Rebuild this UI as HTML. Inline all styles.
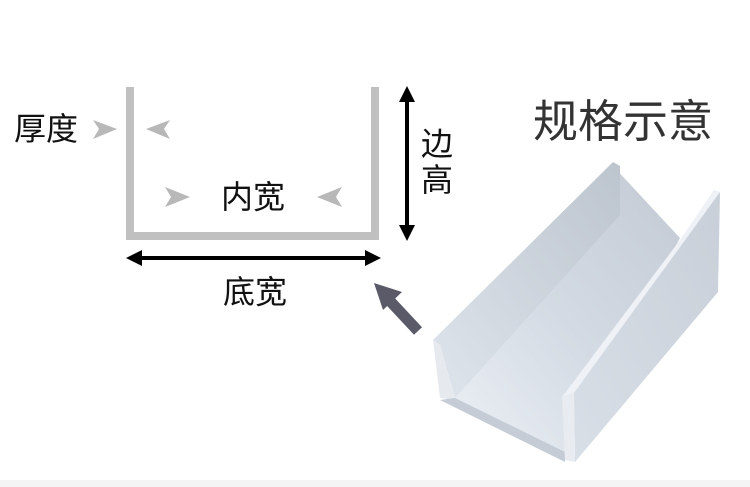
<!DOCTYPE html>
<html><head><meta charset="utf-8"><style>
body{margin:0;width:750px;height:487px;background:#fff;overflow:hidden;position:relative;font-family:"Liberation Sans","Noto Sans CJK SC",sans-serif;}
.t{position:absolute;color:#111;font-size:32px;line-height:1;}
</style></head><body>
<svg width="750" height="487" style="position:absolute;left:0;top:0">
<defs>
<linearGradient id="fl" x1="0" y1="1" x2="1" y2="0"><stop offset="0" stop-color="#eef2f7"/><stop offset="0.5" stop-color="#d3dae3"/><stop offset="1" stop-color="#c3cad4"/></linearGradient>
<linearGradient id="lw" x1="0" y1="1" x2="1" y2="0"><stop offset="0" stop-color="#dfe5ec"/><stop offset="1" stop-color="#bcc4ce"/></linearGradient>
<linearGradient id="rw" x1="0" y1="1" x2="1" y2="0"><stop offset="0" stop-color="#d9dfe7"/><stop offset="1" stop-color="#c8cfd8"/></linearGradient>
</defs>
<rect x="0" y="480" width="750" height="7" fill="#f4f4f4"/>
<rect x="126" y="87" width="8" height="153" fill="#c0c0c0"/>
<rect x="371" y="87" width="8" height="153" fill="#c0c0c0"/>
<rect x="126" y="232" width="253" height="8" fill="#c0c0c0"/>
<polygon points="93,120 117,129 93,139 99,129" fill="#b8b8b8"/>
<polygon points="170,120 146,129 170,139 164,129" fill="#b8b8b8"/>
<polygon points="165,187 190,197 165,207 171,197" fill="#b8b8b8"/>
<polygon points="342,187 317,197 342,207 336,197" fill="#b8b8b8"/>
<line x1="138" y1="258" x2="370" y2="258" stroke="#000" stroke-width="4"/>
<polygon points="126,258 142,250 142,266" fill="#000"/>
<polygon points="381,258 365,250 365,266" fill="#000"/>
<line x1="407" y1="98" x2="407" y2="228" stroke="#000" stroke-width="4"/>
<polygon points="407,86 399,102 415,102" fill="#000"/>
<polygon points="407,241 399,225 415,225" fill="#000"/>
<line x1="418" y1="331" x2="390" y2="301" stroke="#5a5a68" stroke-width="11"/>
<polygon points="374,283 402,292 383,310" fill="#5a5a68"/>
<polygon points="440,345 613,166 680,238 565,455 455,400" fill="url(#fl)"/>
<polygon points="433,340 613,162 620,166 620,215 455,398 440,345" fill="url(#lw)"/>
<polygon points="433,340 440,345 455,400 440,398" fill="#e6eaef"/>
<polygon points="455,398 565,452 565,462 440,400" fill="#c5ccd5"/>
<polygon points="562,397 574,393 720,192 714,190 680,240" fill="#eef1f5"/>
<polygon points="574,393 720,192 718,292 575,462" fill="url(#rw)"/>
<polygon points="562,397 574,393 575,462 565,460" fill="#e8ecf0"/>
</svg>
<div class="t" style="left:14px;top:113px">厚度</div>
<div class="t" style="left:221px;top:181px">内宽</div>
<div class="t" style="left:223px;top:276px">底宽</div>
<div class="t" style="left:421px;top:128px">边</div>
<div class="t" style="left:421px;top:164px">高</div>
<div class="t" style="left:533px;top:99px;font-size:45px;color:#333">规格示意</div>
</body></html>
